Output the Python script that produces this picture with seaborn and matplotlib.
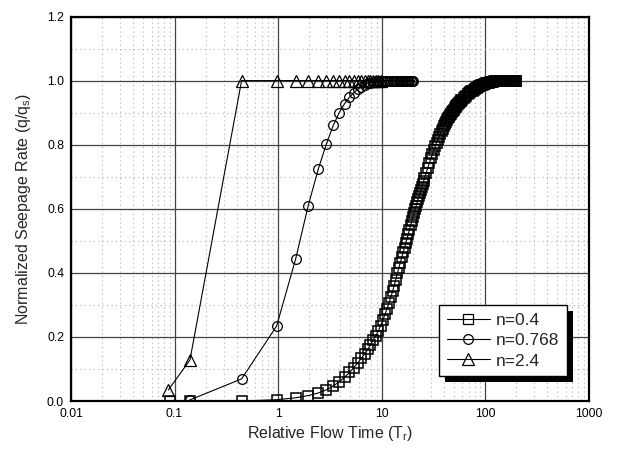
import matplotlib
matplotlib.use("Agg")
import matplotlib.pyplot as plt
import matplotlib.ticker as mticker
from matplotlib.patches import Rectangle
from matplotlib.lines import Line2D
import seaborn as sns
import pandas as pd

# ---------------- data ----------------
sq_t = [0.09, 0.14, 0.445, 0.97, 1.48, 1.96, 2.45, 2.94, 3.42, 3.9,
        4.4, 4.9, 5.4, 5.9, 6.4, 6.9, 7.4, 7.8, 8.3, 8.8,
        9.3, 9.8, 10.3, 10.8, 11.3, 11.8, 12.3, 12.8, 13.2, 13.7,
        14.2, 14.7, 15.2, 15.7, 16.2, 16.7, 17.2, 17.6, 18.1, 18.6,
        19.1, 19.6, 20.1, 20.6, 21.1, 21.6, 22.1, 22.5, 23.0, 23.5,
        24.0, 24.5, 25.0, 25.5, 26, 27, 28, 29, 30, 31,
        32, 33, 34, 35, 36, 37, 38, 39, 40, 41,
        42, 43, 44, 45, 46, 47, 48, 49, 50, 51,
        52, 53, 54, 55, 56, 57, 58, 59, 60, 62,
        64, 66, 68, 70, 72, 74, 76, 78, 80, 82,
        84, 86, 88, 90, 92, 94, 96, 98, 100, 102,
        104, 106, 108, 110, 112, 114, 116, 118, 120, 123,
        126, 129, 132, 135, 138, 141, 144, 147, 150, 153,
        156, 159, 162, 165, 168, 171, 174, 177, 180, 183,
        186, 189, 192, 195, 198, 201]
sq_q = [0.0, 0.0, 0.0, 0.004, 0.01, 0.017, 0.025, 0.035, 0.047, 0.06,
        0.074, 0.089, 0.104, 0.119, 0.134, 0.148, 0.162, 0.175, 0.19, 0.204,
        0.218, 0.235, 0.252, 0.27, 0.288, 0.306, 0.324, 0.342, 0.358, 0.378,
        0.398, 0.415, 0.432, 0.448, 0.464, 0.479, 0.494, 0.506, 0.521, 0.535,
        0.549, 0.562, 0.575, 0.587, 0.598, 0.609, 0.620, 0.629, 0.639, 0.649,
        0.659, 0.668, 0.677, 0.686, 0.695, 0.712, 0.728, 0.743, 0.757, 0.770,
        0.783, 0.795, 0.806, 0.816, 0.825, 0.834, 0.842, 0.850, 0.857, 0.864,
        0.870, 0.876, 0.882, 0.887, 0.892, 0.897, 0.901, 0.905, 0.909, 0.913,
        0.916, 0.920, 0.923, 0.926, 0.929, 0.932, 0.935, 0.938, 0.940, 0.945,
        0.949, 0.953, 0.957, 0.960, 0.963, 0.966, 0.969, 0.972, 0.974, 0.976,
        0.978, 0.980, 0.982, 0.984, 0.985, 0.986, 0.987, 0.988, 0.989, 0.991,
        0.992, 0.993, 0.993, 0.994, 0.995, 0.996, 0.996, 0.997, 0.997, 0.998,
        0.998, 0.999, 0.999, 1.0, 1.0, 1.0, 1.0, 1.0, 1.0, 1.0,
        1.0, 1.0, 1.0, 1.0, 1.0, 1.0, 1.0, 1.0, 1.0, 1.0,
        1.0, 1.0, 1.0, 1.0, 1.0, 1.0]

ci_t = [0.14, 0.445, 0.97, 1.48, 1.96, 2.45, 2.94, 3.42, 3.9, 4.4,
        4.9, 5.4, 5.9, 6.4, 6.9, 7.4, 7.8, 8.3, 8.8, 9.3,
        9.8, 10.3, 10.8, 11.3, 11.8, 12.3, 12.8, 13.2, 13.7, 14.2,
        14.7, 15.2, 15.7, 16.2, 16.7, 17.2, 17.6, 18.1, 18.6, 19.1,
        19.6, 20.1]
ci_q = [0.003, 0.069, 0.234, 0.443, 0.61, 0.724, 0.803, 0.86, 0.90, 0.928,
        0.948, 0.962, 0.973, 0.981, 0.987, 0.991, 0.994, 0.996, 0.998, 0.999,
        1.0, 1.0, 1.0, 1.0, 1.0, 1.0, 1.0, 1.0, 1.0, 1.0,
        1.0, 1.0, 1.0, 1.0, 1.0, 1.0, 1.0, 1.0, 1.0, 1.0,
        1.0, 1.0]

tr_t = [0.087, 0.141, 0.445, 0.97, 1.48, 1.96, 2.45, 2.94, 3.42, 3.9,
        4.4, 4.9, 5.4, 5.9, 6.4, 6.9, 7.4, 7.8, 8.3, 8.8,
        9.3, 9.8]
tr_q = [0.034, 0.128, 1.0, 1.0, 1.0, 1.0, 1.0, 1.0, 1.0, 1.0,
        1.0, 1.0, 1.0, 1.0, 1.0, 1.0, 1.0, 1.0, 1.0, 1.0,
        1.0, 1.0]

series_labels = ["n=0.4", "n=0.768", "n=2.4"]
x_ticks = [0.01, 0.1, 1, 10, 100, 1000]
x_tick_labels = ["0.01", "0.1", "1", "10", "100", "1000"]
y_ticks = [0.0, 0.2, 0.4, 0.6, 0.8, 1.0, 1.2]
y_tick_labels = ["0.0", "0.2", "0.4", "0.6", "0.8", "1.0", "1.2"]

# ---------------- style ----------------
sns.set_style("white")
plt.rcParams["font.family"] = ["Liberation Sans", "DejaVu Sans"]
plt.rcParams["mathtext.fontset"] = "custom"
plt.rcParams["mathtext.rm"] = "Liberation Sans"

fig = plt.figure(figsize=(6.19, 4.59), dpi=100)
ax = fig.add_axes([71 / 619, 1 - 401 / 459, 517.5 / 619, 384.5 / 459])

markers = ["s", "o", "^"]
msizes = [6.5, 7.0, 8.0]
mews = [1.1, 0.9, 0.9]
datasets = [(sq_t, sq_q), (ci_t, ci_q), (tr_t, tr_q)]
for (tt, qq), lab, mk, ms, mw in zip(datasets, series_labels, markers, msizes, mews):
    df = pd.DataFrame({"t": tt, "q": qq})
    sns.lineplot(data=df, x="t", y="q", ax=ax, estimator=None, sort=False,
                 color="black", linewidth=0.8, marker=mk, markersize=ms,
                 markerfacecolor="none", markeredgecolor="black",
                 markeredgewidth=mw, label=lab, zorder=3)

ax.set_xscale("log")
ax.set_xlim(0.01, 1000)
ax.set_ylim(0.0, 1.2)

ax.xaxis.set_major_locator(mticker.FixedLocator(x_ticks))
ax.xaxis.set_major_formatter(mticker.FixedFormatter(x_tick_labels))
ax.xaxis.set_minor_locator(mticker.LogLocator(base=10, subs=range(2, 10), numticks=20))
ax.xaxis.set_minor_formatter(mticker.NullFormatter())
ax.yaxis.set_major_locator(mticker.FixedLocator(y_ticks))
ax.yaxis.set_major_formatter(mticker.FixedFormatter(y_tick_labels))
ax.yaxis.set_minor_locator(mticker.MultipleLocator(0.1))

ax.grid(True, which="major", color="#444444", linewidth=0.9, linestyle="-", zorder=1)
ax.grid(True, which="minor", color="#b0b0b0", linewidth=0.8, linestyle=(0, (1, 3)), zorder=1)
ax.set_axisbelow(True)

ax.tick_params(which="major", direction="in", length=6, width=1.2, labelsize=8.7,
               colors="black", pad=5, top=False, right=False)
ax.tick_params(which="minor", direction="in", length=3.5, width=1.0,
               top=False, right=False)
for sp in ax.spines.values():
    sp.set_color("black")
    sp.set_linewidth(1.6)
    sp.set_visible(True)

ax.set_xlabel(r"Relative Flow Time (T$_\mathregular{r}$)", fontsize=11.5, labelpad=3)
ax.set_ylabel(r"Normalized Seepage Rate (q/q$_\mathregular{s}$)", fontsize=11.5, labelpad=10)

handles = [Line2D([], [], color="black", linewidth=0.8, marker=m, markersize=s,
                  markerfacecolor="none", markeredgecolor="black", markeredgewidth=0.9)
           for m, s in zip(markers, msizes)]
leg = ax.legend(handles, series_labels, loc="upper left", bbox_to_anchor=(0.711, 0.25),
                fontsize=12.5, frameon=True, fancybox=False, framealpha=1,
                edgecolor="black", handlelength=2.5, handletextpad=0.3,
                borderpad=0.45, labelspacing=0.3, borderaxespad=0)
leg.get_frame().set_linewidth(1.0)
leg.set_zorder(6)

fig.canvas.draw()
bb = leg.get_window_extent()
inv = ax.transAxes.inverted()
(x0, y0) = inv.transform((bb.x0 + 6, bb.y0 - 6))
(x1, y1) = inv.transform((bb.x1 + 6, bb.y1 - 6))
ax.add_patch(Rectangle((x0, y0), x1 - x0, y1 - y0, transform=ax.transAxes,
                       facecolor="black", edgecolor="none", zorder=5.5, clip_on=False))

fig.savefig("out.png", dpi=100)
